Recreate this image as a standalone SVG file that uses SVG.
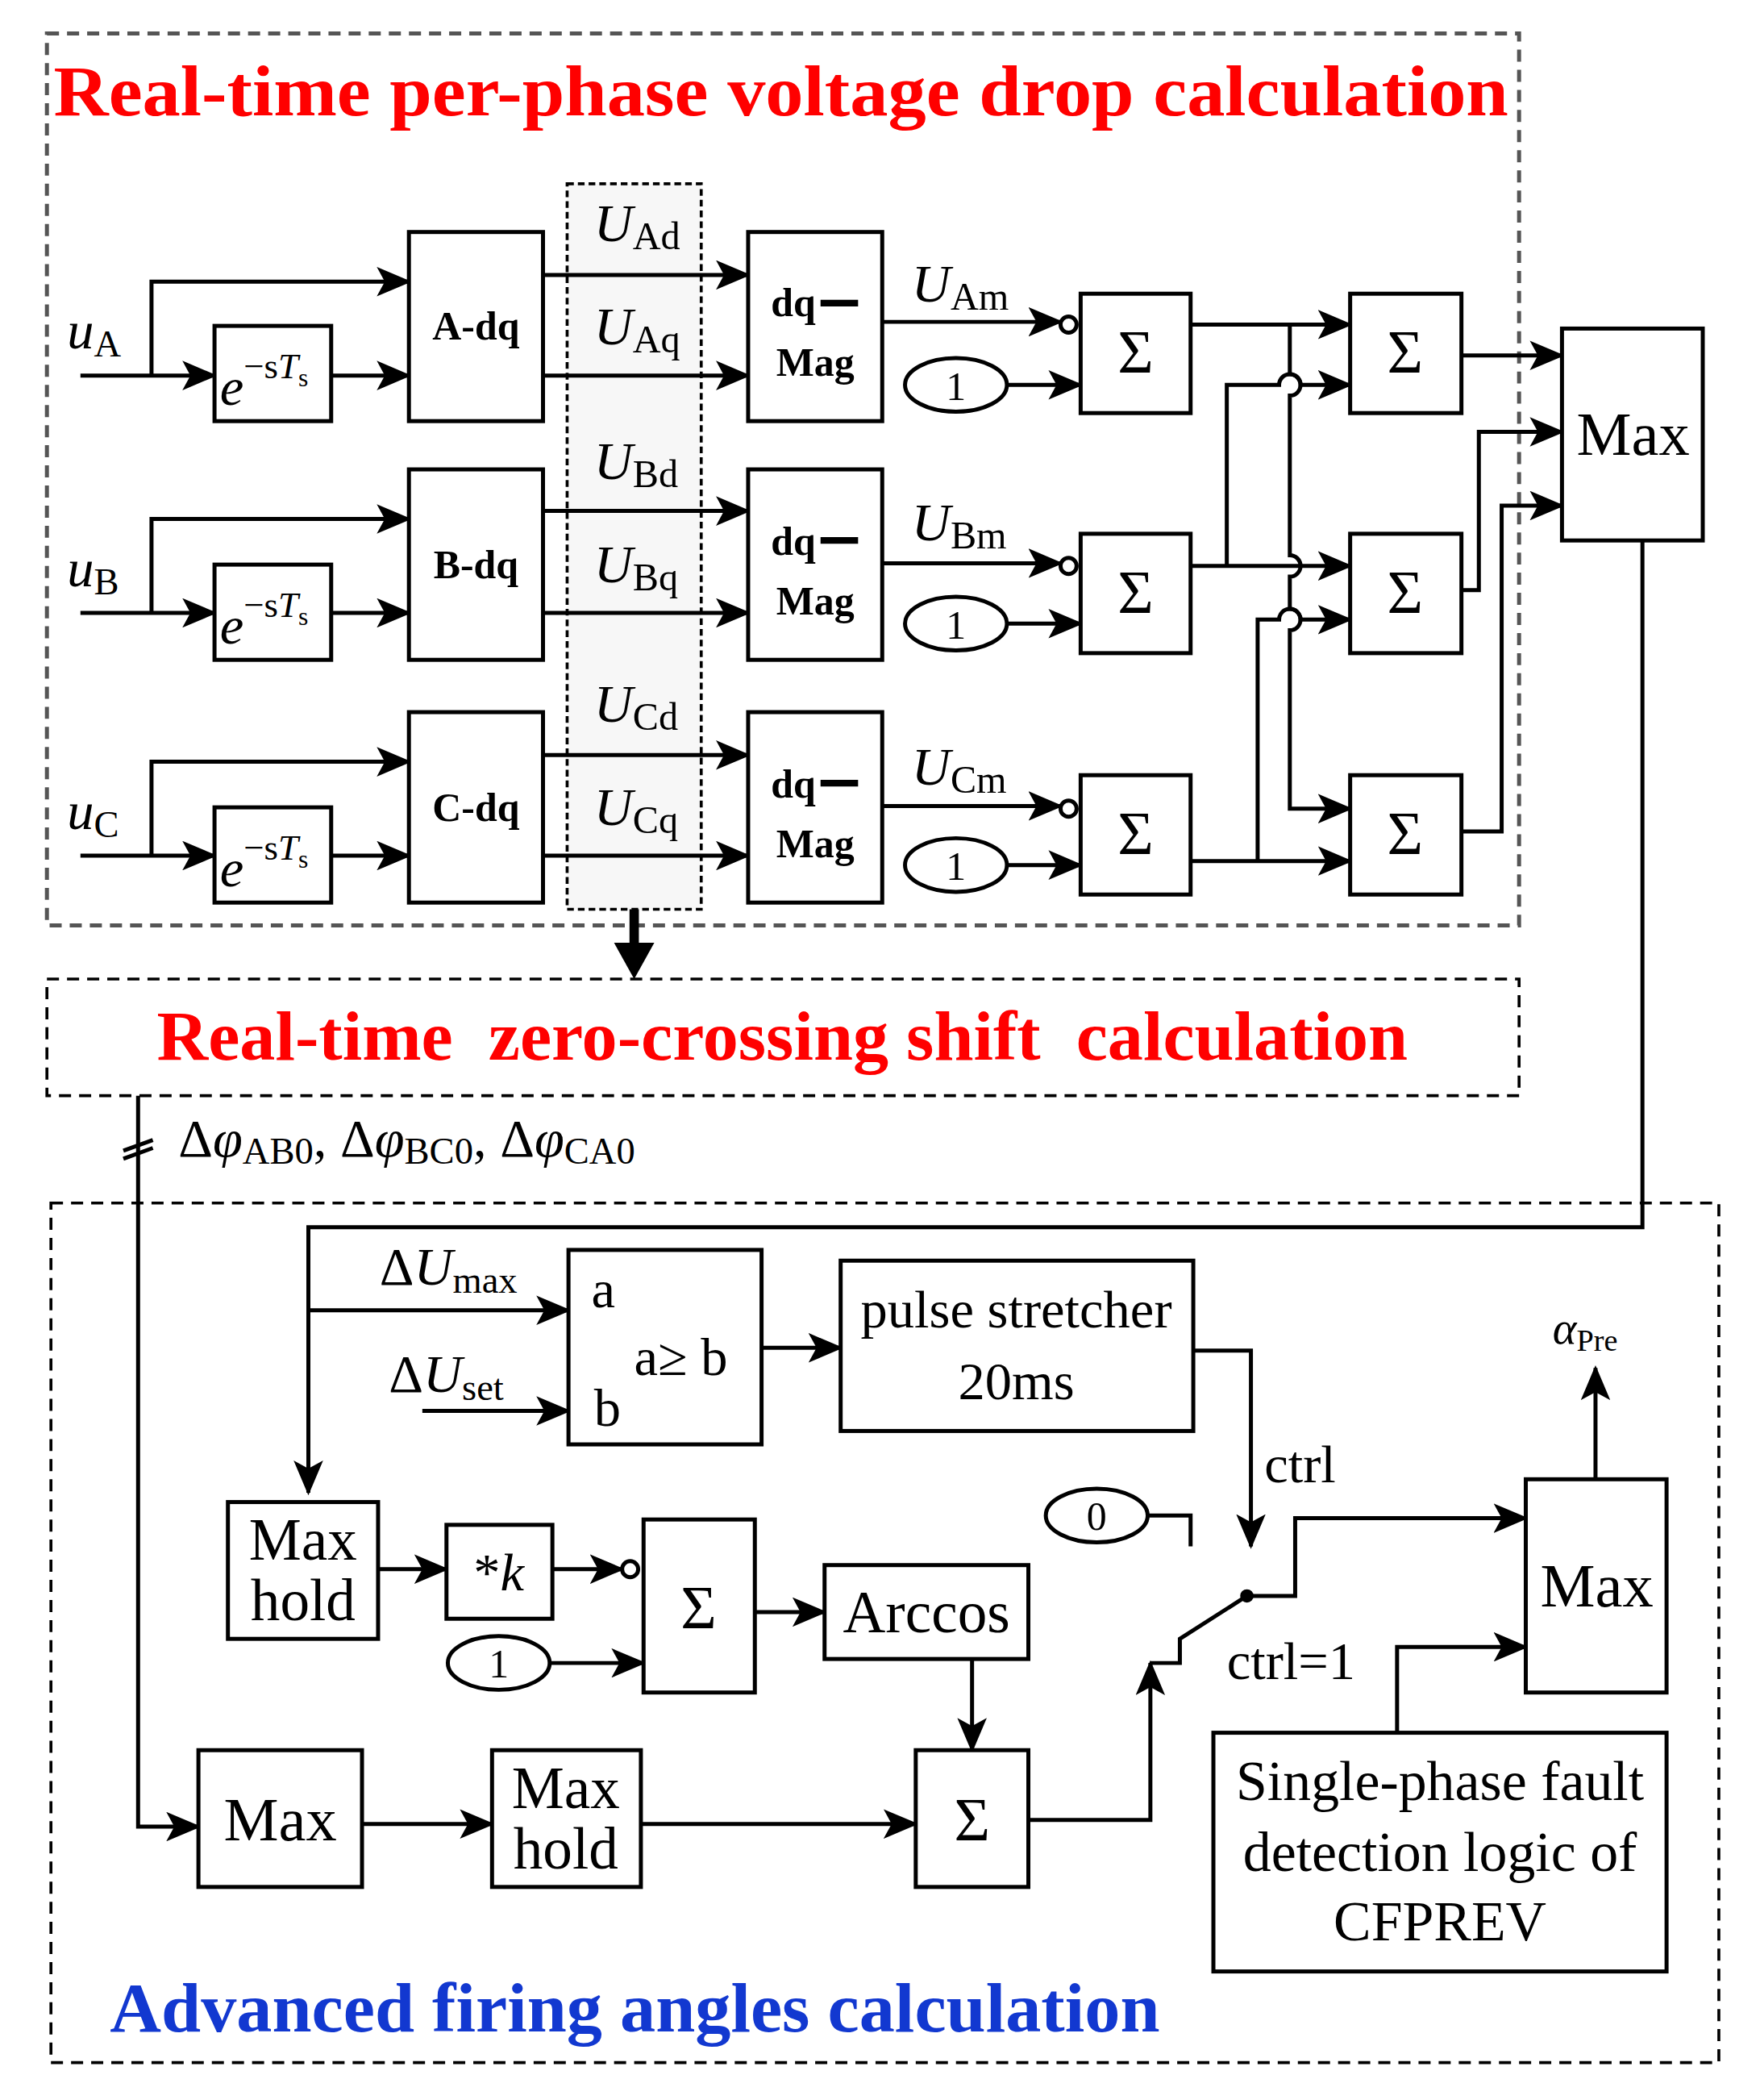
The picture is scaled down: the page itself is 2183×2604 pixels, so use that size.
<svg xmlns="http://www.w3.org/2000/svg" width="2183" height="2604" viewBox="0 0 2183 2604">
<style>
.b{fill:#fff;stroke:#000;stroke-width:3}
.w{fill:none;stroke:#000;stroke-width:3}
.a{fill:none;stroke:#000;stroke-width:3;marker-end:url(#ar)}
.t{font-family:"Liberation Serif",serif;fill:#000}
.bd{font-family:"Liberation Serif",serif;font-weight:bold;fill:#000}
.i{font-style:italic}
</style>
<defs>
<marker id="ar" viewBox="0 0 26 22" refX="24" refY="11" markerWidth="26" markerHeight="22" markerUnits="userSpaceOnUse" orient="auto"><path d="M0,0 L26,11 L0,22 L6,11 z" fill="#000"/></marker>
</defs>
<rect width="2183" height="2604" fill="#fff"/>
<g transform="scale(1.663)">
<g id="frames">
<rect x="35" y="25" width="1098" height="665" fill="none" stroke="#555" stroke-width="3" stroke-dasharray="9,6"/>
<rect x="423" y="137" width="100" height="541" fill="#f7f7f7" stroke="#000" stroke-width="2.2" stroke-dasharray="5,3"/>
<rect x="35" y="730" width="1098" height="87" fill="none" stroke="#000" stroke-width="2.2" stroke-dasharray="9,6"/>
<rect x="38" y="897" width="1244" height="641" fill="none" stroke="#000" stroke-width="2.2" stroke-dasharray="9,6"/>
<text x="40" y="86" class="bd" font-size="54" textLength="1085" lengthAdjust="spacingAndGlyphs" style="fill:#f00">Real-time per-phase voltage drop calculation</text>
<text x="117" y="790" class="bd" font-size="52" textLength="933" lengthAdjust="spacingAndGlyphs" style="fill:#f00" xml:space="preserve">Real-time  zero-crossing shift  calculation</text>
<text x="82" y="1515" class="bd" font-size="52" textLength="783" lengthAdjust="spacingAndGlyphs" style="fill:#1238d0">Advanced firing angles calculation</text>
</g>
<g id="connectors">
<path class="a" d="M60,280 H160"/><path class="a" d="M113,280 V210 H305"/><path class="a" d="M247,280 H305"/>
<path class="a" d="M405,205 H558"/><path class="a" d="M405,280 H558"/>
<path class="a" d="M658,240 H791"/><circle cx="797" cy="242" r="6" class="b"/>
<path class="a" d="M751,287 H806"/>
<path class="a" d="M60,457 H160"/><path class="a" d="M113,457 V387 H305"/><path class="a" d="M247,457 H305"/>
<path class="a" d="M405,381 H558"/><path class="a" d="M405,457 H558"/>
<path class="a" d="M658,420 H791"/><circle cx="797" cy="422" r="6" class="b"/>
<path class="a" d="M751,465 H806"/>
<path class="a" d="M60,638 H160"/><path class="a" d="M113,638 V568 H305"/><path class="a" d="M247,638 H305"/>
<path class="a" d="M405,563 H558"/><path class="a" d="M405,638 H558"/>
<path class="a" d="M658,601 H791"/><circle cx="797" cy="603" r="6" class="b"/>
<path class="a" d="M751,645 H806"/>
<path class="a" d="M888,242 H1007"/>
<path class="a" d="M962,242 V279 A8,8 0 0 1 962,295 V414 A8,8 0 0 1 962,430 V454 A8,8 0 0 1 962,470 V603 H1007"/>
<path class="a" d="M888,422 H1007"/>
<path class="a" d="M915,422 V287 H954 A8,8 0 0 1 970,287 H1007"/>
<path class="a" d="M888,642 H1007"/>
<path class="a" d="M938,642 V462 H954 A8,8 0 0 1 970,462 H1007"/>
<path class="a" d="M1090,265 H1165"/>
<path class="a" d="M1090,440 H1103 V322 H1165"/>
<path class="a" d="M1090,620 H1120 V377 H1165"/>
<path class="a" d="M1225,403 V915 H230 V1113"/>
<path d="M473,678 V705" stroke="#000" stroke-width="7" fill="none"/><path d="M458,703 L488,703 L473,730 z" fill="#000"/>
<path class="a" d="M103,817 V1362 H148"/>
<path class="w" d="M92,858 L114,850 M92,864 L114,856"/>
<path class="a" d="M230,977 H424"/>
<path class="a" d="M315,1052 H424"/>
<path class="a" d="M568,1005 H627"/>
<path class="a" d="M890,1007 H933 V1153"/>
<path class="w" d="M856,1130 H888 V1153"/>
<circle cx="930" cy="1190" r="5" fill="#000"/>
<path class="a" d="M930,1190 H966 V1132 H1138"/>
<path class="w" d="M930,1190 L880,1222 V1240 H858"/>
<path class="a" d="M767,1357 H858 V1240"/>
<path class="a" d="M1190,1103 V1020"/>
<path class="a" d="M1042,1292 V1228 H1138"/>
<path class="a" d="M282,1170 H333"/>
<path class="a" d="M412,1170 H464"/><circle cx="470" cy="1170" r="6" class="b"/>
<path class="a" d="M410,1240 H480"/>
<path class="a" d="M563,1202 H615"/>
<path class="a" d="M725,1237 V1305"/>
<path class="a" d="M270,1360 H367"/>
<path class="a" d="M478,1360 H683"/>
</g>
<g id="labels" class="t">
<text x="50" y="260" class="t i" font-size="40">u<tspan font-style="normal" font-size="28" dy="6">A</tspan></text>
<text x="50" y="437" class="t i" font-size="40">u<tspan font-style="normal" font-size="28" dy="6">B</tspan></text>
<text x="50" y="618" class="t i" font-size="40">u<tspan font-style="normal" font-size="28" dy="6">C</tspan></text>
<text x="443" y="180" class="t i" font-size="40">U<tspan font-style="normal" font-size="29" dy="6">Ad</tspan></text>
<text x="443" y="257" class="t i" font-size="40">U<tspan font-style="normal" font-size="29" dy="6">Aq</tspan></text>
<text x="443" y="357" class="t i" font-size="40">U<tspan font-style="normal" font-size="29" dy="6">Bd</tspan></text>
<text x="443" y="434" class="t i" font-size="40">U<tspan font-style="normal" font-size="29" dy="6">Bq</tspan></text>
<text x="443" y="538" class="t i" font-size="40">U<tspan font-style="normal" font-size="29" dy="6">Cd</tspan></text>
<text x="443" y="615" class="t i" font-size="40">U<tspan font-style="normal" font-size="29" dy="6">Cq</tspan></text>
<text x="680" y="225" class="t i" font-size="40">U<tspan font-style="normal" font-size="29" dy="6">Am</tspan></text>
<text x="680" y="403" class="t i" font-size="40">U<tspan font-style="normal" font-size="29" dy="6">Bm</tspan></text>
<text x="680" y="585" class="t i" font-size="40">U<tspan font-style="normal" font-size="29" dy="6">Cm</tspan></text>
<text x="133" y="862" class="t" font-size="40">Δ<tspan font-style="italic">φ</tspan><tspan font-size="28" dy="6">AB0</tspan><tspan dy="-6">, Δ</tspan><tspan font-style="italic">φ</tspan><tspan font-size="28" dy="6">BC0</tspan><tspan dy="-6">, Δ</tspan><tspan font-style="italic">φ</tspan><tspan font-size="28" dy="6">CA0</tspan></text>
<text x="283" y="958" class="t" font-size="40">Δ<tspan font-style="italic">U</tspan><tspan font-size="28" dy="6">max</tspan></text>
<text x="290" y="1038" class="t" font-size="40">Δ<tspan font-style="italic">U</tspan><tspan font-size="28" dy="6">set</tspan></text>
<text x="943" y="1105" class="t" font-size="40">ctrl</text>
<text x="915" y="1252" class="t" font-size="40">ctrl=1</text>
<text x="1158" y="1002" class="t i" font-size="34">α<tspan font-style="normal" font-size="23" dy="5">Pre</tspan></text>
</g>
<g id="dA"><rect x="160" y="243" width="87" height="71" class="b"/><text x="164" y="302" class="t i" font-size="40">e<tspan font-style="normal" font-size="27" dy="-20">−s</tspan><tspan font-size="27">T</tspan><tspan font-style="normal" font-size="19" dy="6">s</tspan></text></g>
<g id="dB"><rect x="160" y="421" width="87" height="71" class="b"/><text x="164" y="480" class="t i" font-size="40">e<tspan font-style="normal" font-size="27" dy="-20">−s</tspan><tspan font-size="27">T</tspan><tspan font-style="normal" font-size="19" dy="6">s</tspan></text></g>
<g id="dC"><rect x="160" y="602" width="87" height="71" class="b"/><text x="164" y="661" class="t i" font-size="40">e<tspan font-style="normal" font-size="27" dy="-20">−s</tspan><tspan font-size="27">T</tspan><tspan font-style="normal" font-size="19" dy="6">s</tspan></text></g>
<g id="Adq"><rect x="305" y="173" width="100" height="141" class="b"/><text x="355" y="253" class="bd" font-size="30" text-anchor="middle">A-dq</text></g>
<g id="Bdq"><rect x="305" y="350" width="100" height="142" class="b"/><text x="355" y="431" class="bd" font-size="30" text-anchor="middle">B-dq</text></g>
<g id="Cdq"><rect x="305" y="531" width="100" height="142" class="b"/><text x="355" y="612" class="bd" font-size="30" text-anchor="middle">C-dq</text></g>
<g id="MagA"><rect x="558" y="173" width="100" height="141" class="b"/><text x="575" y="236" class="bd" font-size="30">dq</text><path d="M612,226 H640" stroke="#000" stroke-width="5"/><text x="608" y="280" class="bd" font-size="30" text-anchor="middle">Mag</text></g>
<g id="MagB"><rect x="558" y="350" width="100" height="142" class="b"/><text x="575" y="414" class="bd" font-size="30">dq</text><path d="M612,403 H640" stroke="#000" stroke-width="5"/><text x="608" y="458" class="bd" font-size="30" text-anchor="middle">Mag</text></g>
<g id="MagC"><rect x="558" y="531" width="100" height="142" class="b"/><text x="575" y="595" class="bd" font-size="30">dq</text><path d="M612,584 H640" stroke="#000" stroke-width="5"/><text x="608" y="639" class="bd" font-size="30" text-anchor="middle">Mag</text></g>
<g id="oneA"><ellipse cx="713" cy="287" rx="38" ry="20" class="b"/><text x="713" y="298" class="t" font-size="30" text-anchor="middle">1</text></g>
<g id="oneB"><ellipse cx="713" cy="465" rx="38" ry="20" class="b"/><text x="713" y="476" class="t" font-size="30" text-anchor="middle">1</text></g>
<g id="oneC"><ellipse cx="713" cy="645" rx="38" ry="20" class="b"/><text x="713" y="656" class="t" font-size="30" text-anchor="middle">1</text></g>
<g id="s1A"><rect x="806" y="219" width="82" height="89" class="b"/><text x="847" y="278" class="t" font-size="46" text-anchor="middle">Σ</text></g>
<g id="s1B"><rect x="806" y="398" width="82" height="89" class="b"/><text x="847" y="457" class="t" font-size="46" text-anchor="middle">Σ</text></g>
<g id="s1C"><rect x="806" y="578" width="82" height="89" class="b"/><text x="847" y="637" class="t" font-size="46" text-anchor="middle">Σ</text></g>
<g id="s2A"><rect x="1007" y="219" width="83" height="89" class="b"/><text x="1048" y="278" class="t" font-size="46" text-anchor="middle">Σ</text></g>
<g id="s2B"><rect x="1007" y="398" width="83" height="89" class="b"/><text x="1048" y="457" class="t" font-size="46" text-anchor="middle">Σ</text></g>
<g id="s2C"><rect x="1007" y="578" width="83" height="89" class="b"/><text x="1048" y="637" class="t" font-size="46" text-anchor="middle">Σ</text></g>
<g id="max1"><rect x="1165" y="245" width="105" height="158" class="b"/><text x="1218" y="339" class="t" font-size="46" text-anchor="middle">Max</text></g>
<g id="cmp"><rect x="424" y="932" width="144" height="145" class="b"/><text x="441" y="975" class="t" font-size="40">a</text><text x="443" y="1063" class="t" font-size="40">b</text><text x="473" y="1025" class="t" font-size="40">a≥ b</text></g>
<g id="ps"><rect x="627" y="940" width="263" height="127" class="b"/><text x="758" y="990" class="t" font-size="40" text-anchor="middle">pulse stretcher</text><text x="758" y="1043" class="t" font-size="40" text-anchor="middle">20ms</text></g>
<g id="zero"><ellipse cx="818" cy="1130" rx="38" ry="20" class="b"/><text x="818" y="1141" class="t" font-size="30" text-anchor="middle">0</text></g>
<g id="mh1"><rect x="170" y="1120" width="112" height="102" class="b"/><text x="226" y="1163" class="t" font-size="44" text-anchor="middle">Max</text><text x="226" y="1208" class="t" font-size="44" text-anchor="middle">hold</text></g>
<g id="k"><rect x="333" y="1137" width="79" height="70" class="b"/><text x="372" y="1186" class="t" font-size="40" text-anchor="middle">*<tspan font-style="italic">k</tspan></text></g>
<g id="s3"><rect x="480" y="1133" width="83" height="129" class="b"/><text x="521" y="1214" class="t" font-size="46" text-anchor="middle">Σ</text></g>
<g id="one4"><ellipse cx="372" cy="1240" rx="38" ry="20" class="b"/><text x="372" y="1251" class="t" font-size="30" text-anchor="middle">1</text></g>
<g id="arccos"><rect x="615" y="1167" width="152" height="70" class="b"/><text x="691" y="1217" class="t" font-size="44" text-anchor="middle">Arccos</text></g>
<g id="max2"><rect x="148" y="1305" width="122" height="102" class="b"/><text x="209" y="1372" class="t" font-size="46" text-anchor="middle">Max</text></g>
<g id="mh2"><rect x="367" y="1305" width="111" height="102" class="b"/><text x="422" y="1348" class="t" font-size="44" text-anchor="middle">Max</text><text x="422" y="1393" class="t" font-size="44" text-anchor="middle">hold</text></g>
<g id="s4"><rect x="683" y="1305" width="84" height="102" class="b"/><text x="725" y="1372" class="t" font-size="46" text-anchor="middle">Σ</text></g>
<g id="max3"><rect x="1138" y="1103" width="105" height="159" class="b"/><text x="1191" y="1198" class="t" font-size="46" text-anchor="middle">Max</text></g>
<g id="spf"><rect x="905" y="1292" width="338" height="178" class="b"/><text x="1074" y="1342" class="t" font-size="42" text-anchor="middle">Single-phase fault</text><text x="1074" y="1395" class="t" font-size="42" text-anchor="middle">detection logic of</text><text x="1074" y="1447" class="t" font-size="42" text-anchor="middle">CFPREV</text></g>
</g>
</svg>
